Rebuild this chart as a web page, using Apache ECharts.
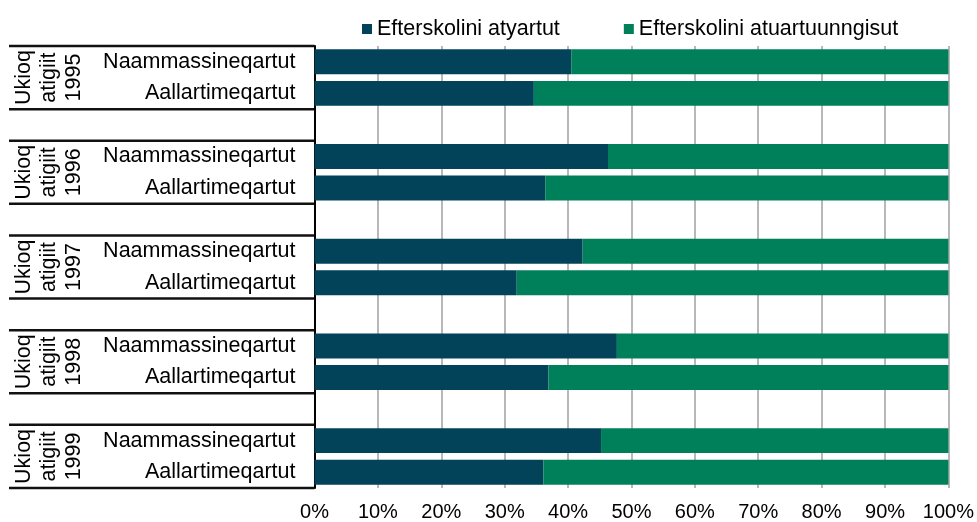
<!DOCTYPE html>
<html>
<head>
<meta charset="utf-8">
<script src="https://cdn.jsdelivr.net/npm/echarts@6/dist/echarts.min.js"></script>
<style>
  html, body { margin: 0; padding: 0; background: #fff; }
  #chart { width: 977px; height: 522px; }
</style>
</head>
<body>
<div id="chart"></div>
<script>
// data
const years = ['1995', '1996', '1997', '1998', '1999'];
const rowNames = ['Naammassineqartut', 'Aallartimeqartut'];
const groupPrefix = 'Ukioq\natigiit\n';
const seriesNames = ['Efterskolini atyartut', 'Efterskolini atuartuunngisut'];
const atyartut = [40.5, 34.6, 46.3, 36.4, 42.3, 31.9, 47.7, 36.9, 45.2, 36.1];
const atuartuunngisut = [59.5, 65.4, 53.7, 63.6, 57.7, 68.1, 52.3, 63.1, 54.8, 63.9];
const xTicks = [0, 10, 20, 30, 40, 50, 60, 70, 80, 90, 100];

const FONT = "'Liberation Sans', Arial, sans-serif";
const DARK = '#02435a';
const GREEN = '#00805a';

// category rows: two bars per year, blank row between years
const categories = [];
const darkData = [];
const greenData = [];
years.forEach((y, i) => {
  rowNames.forEach((r, j) => {
    categories.push(y + '|' + r);
    darkData.push(atyartut[i * 2 + j]);
    greenData.push(atuartuunngisut[i * 2 + j]);
  });
  if (i < years.length - 1) {
    categories.push('gap' + y);
    darkData.push(null);
    greenData.push(null);
  }
});

const chart = echarts.init(document.getElementById('chart'));

chart.setOption({
  animation: false,
  textStyle: { fontFamily: FONT },
  legend: {
    data: seriesNames,
    left: 357, top: 13,
    icon: 'rect', itemWidth: 10, itemHeight: 10, itemGap: 64,
    textStyle: { fontSize: 21.5, color: '#000', fontFamily: FONT }
  },
  grid: { left: 314.5, right: 28, top: 46, bottom: 33, containLabel: false },
  xAxis: {
    type: 'value', min: xTicks[0], max: xTicks[xTicks.length - 1], interval: 10,
    axisLine: { show: false }, axisTick: { show: false },
    axisLabel: { formatter: '{value}%', color: '#000', fontSize: 20, margin: 14, fontFamily: FONT },
    splitLine: { lineStyle: { color: '#a0a0a0', width: 1.5 } }
  },
  yAxis: {
    type: 'category', data: categories, inverse: true,
    axisLine: { lineStyle: { color: '#000', width: 2 } },
    axisTick: { show: false },
    axisLabel: {
      color: '#000', fontSize: 21.5, margin: 19, fontFamily: FONT,
      formatter: v => (v.indexOf('|') > 0 ? v.split('|')[1] : '')
    }
  },
  series: [
    { name: seriesNames[0], type: 'bar', stack: 'total', barWidth: '79%', itemStyle: { color: DARK }, data: darkData },
    { name: seriesNames[1], type: 'bar', stack: 'total', barWidth: '79%', itemStyle: { color: GREEN }, data: greenData }
  ]
});

// group boxes on the left, placed from the category axis
const c0 = chart.convertToPixel({ yAxisIndex: 0 }, categories[0]);
const c1 = chart.convertToPixel({ yAxisIndex: 0 }, categories[1]);
const half = (c1 - c0) / 2;
const axisX = chart.convertToPixel({ xAxisIndex: 0 }, 0);
const graphics = [];
years.forEach((y, i) => {
  const top = chart.convertToPixel({ yAxisIndex: 0 }, categories[i * 3]) - half;
  const bottom = chart.convertToPixel({ yAxisIndex: 0 }, categories[i * 3 + 1]) + half;
  [top, bottom].forEach(py => {
    graphics.push({
      type: 'line',
      shape: { x1: 9, y1: py, x2: axisX, y2: py },
      style: { stroke: '#111', lineWidth: 2.5 }
    });
  });
  graphics.push({
    type: 'text',
    x: 49, y: (top + bottom) / 2,
    rotation: Math.PI / 2,
    style: {
      text: groupPrefix + y,
      fontSize: 21.5, fontFamily: FONT, fill: '#000',
      align: 'center', verticalAlign: 'middle', lineHeight: 25
    }
  });
});
chart.setOption({ graphic: graphics });
</script>
</body>
</html>
